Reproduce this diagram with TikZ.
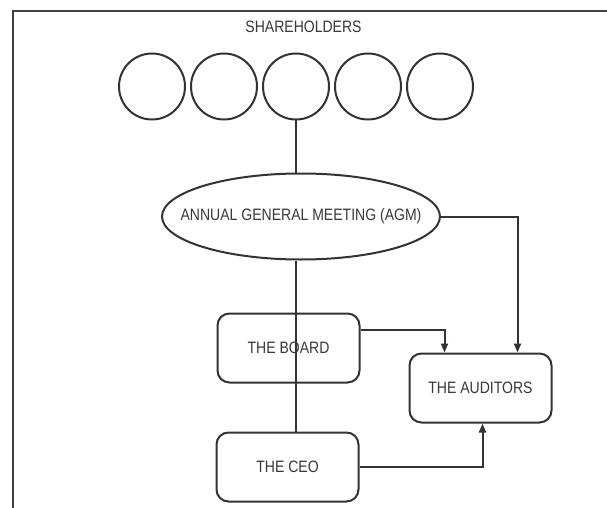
\documentclass[tikz,border=0pt]{standalone}
\usepackage{fontspec}
\setmainfont{Liberation Sans}[FakeStretch=0.85]
\usepackage{tikz}
\usetikzlibrary{shapes.geometric,arrows.meta}

\tikzset{
  ink/.style={draw=black!80,line width=2pt},
  holder/.style={ink,circle,minimum size=66pt,inner sep=0pt},
  meeting/.style={ink,ellipse,minimum width=278pt,minimum height=86pt,inner sep=0pt},
  office/.style={ink,rounded corners=12pt,minimum width=142pt,minimum height=69pt,inner sep=0pt},
  lbl/.style={text=black!78,font=\fontsize{16.5}{19}\selectfont},
}

\begin{document}
\begin{tikzpicture}[x=1pt,y=-1pt,every node/.style={lbl}]
			\useasboundingbox (0,0) rectangle (607,508);
			\draw[black!75,line width=1.2pt] (13,508) -- (13,11) -- (607,11);
			
			\node (title) at (303.5,26.5) {SHAREHOLDERS};
			\foreach \i in {1,...,5}
				\node[holder] (sh\i) at (80+72*\i,86.5) {};
			
			\node[meeting] (agm) at (301,216.5) {\makebox[180pt]{ANNUAL GENERAL MEETING (AGM)}};
			\node[office] (board) at (288.5,348) {THE BOARD};
			\node[office] (aud) at (480.5,388) {THE AUDITORS};
			\node[office] (ceo) at (287.5,467) {THE CEO};
			
			\draw[ink] (sh3.south) -- (sh3 |- agm.north);
			\draw[ink] (sh3 |- agm.south) -- (sh3 |- ceo.north);
			\draw[ink,-{Triangle[length=9pt,width=7pt]}] ([yshift=18pt]board.east) -| ([xshift=-36pt]aud.north);
			\draw[ink,-{Triangle[length=9pt,width=7pt]}] (agm.east) -| ([xshift=37pt]aud.north);
			\draw[ink,-{Triangle[length=9pt,width=7pt]}] (ceo.east) -| ([xshift=2pt]aud.south);
		\end{tikzpicture}
\end{document}
